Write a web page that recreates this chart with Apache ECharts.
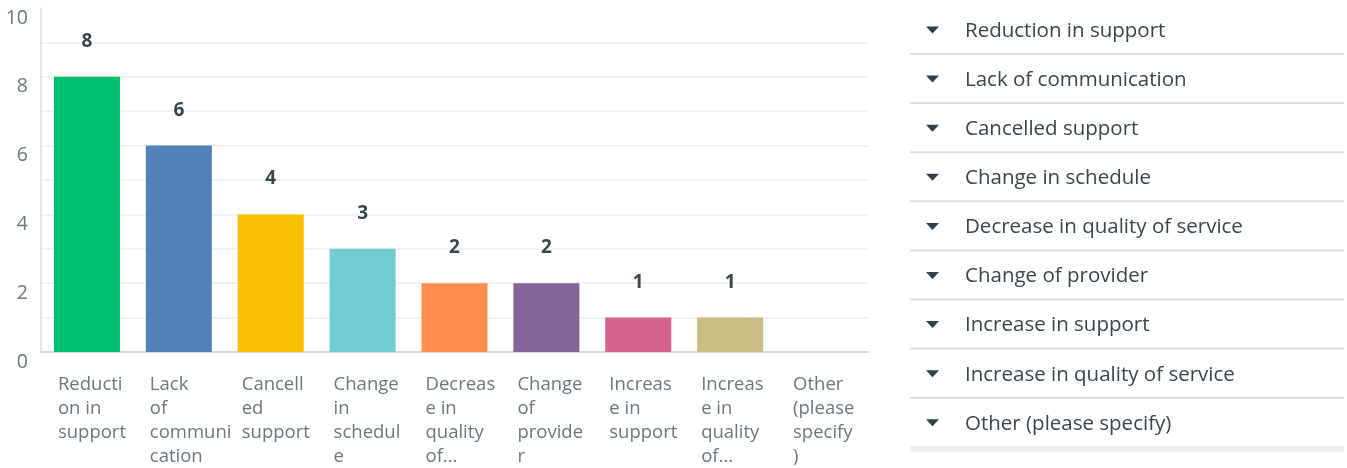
<!DOCTYPE html>
<html>
<head>
<meta charset="utf-8">
<script src="https://cdn.jsdelivr.net/npm/echarts@6/dist/echarts.min.js"></script>
<style>
  html, body { margin: 0; padding: 0; background: #ffffff; }
  #chart { width: 1347px; height: 468px; }
</style>
</head>
<body>
<div id="chart"></div>
<script>
// Answer choices, in display order
const categories = [
  'Reduction in support',
  'Lack of communication',
  'Cancelled support',
  'Change in schedule',
  'Decrease in quality of service',
  'Change of provider',
  'Increase in support',
  'Increase in quality of service',
  'Other (please specify)'
];

// Wrapped labels shown under each bar
const tickLabels = [
  ['Reducti', 'on in', 'support'],
  ['Lack', 'of', 'communi', 'cation'],
  ['Cancell', 'ed', 'support'],
  ['Change', 'in', 'schedul', 'e'],
  ['Decreas', 'e in', 'quality', 'of...'],
  ['Change', 'of', 'provide', 'r'],
  ['Increas', 'e in', 'support'],
  ['Increas', 'e in', 'quality', 'of...'],
  ['Other', '(please', 'specify', ')']
];

// Response counts
const responses = [8, 6, 4, 3, 2, 2, 1, 1, 0];

// Bar colours
const barColors = [
  '#00bf6f', '#5280b8', '#f7bf00', '#71cbd0',
  '#ff8d52', '#83639a', '#d6628f', '#c9bd83', '#a0a0a0'
];

const yTicks = ['0', '2', '4', '6', '8', '10'];

const FONT = '"Open Sans", "Noto Sans", sans-serif';

const chart = echarts.init(document.getElementById('chart'), null, { renderer: 'canvas' });

// Right-hand list of answer choices
const listGraphics = [];
const rowTop = 30, rowStep = 49.1;
categories.forEach((name, i) => {
  const cy = rowTop + i * rowStep;
  listGraphics.push({
    type: 'polygon',
    shape: { points: [[926, cy - 3.5], [939, cy - 3.5], [932.5, cy + 3.5]] },
    style: { fill: '#333e48' }
  });
  listGraphics.push({
    type: 'text',
    x: 965, y: cy + 1,
    style: {
      text: name, fill: '#3b454e', font: '20.5px ' + FONT,
      textAlign: 'left', textVerticalAlign: 'middle'
    }
  });
  const last = i === categories.length - 1;
  listGraphics.push({
    type: 'rect',
    shape: { x: 910, y: cy + 23, width: 434, height: last ? 6 : 2 },
    style: { fill: last ? '#edeeee' : '#dedede' }
  });
});

chart.setOption({
  animation: false,
  backgroundColor: '#ffffff',
  grid: { left: 41, right: 479, top: 8, bottom: 116 },
  xAxis: {
    type: 'category',
    data: categories,
    axisLine: { show: true, lineStyle: { color: '#d9d9d9', width: 2 } },
    axisTick: { show: false },
    axisLabel: {
      interval: 0,
      margin: 21,
      align: 'center',
      formatter: (v, idx) => tickLabels[idx].map(s => '{t|' + s + '}').join('\n'),
      rich: {
        t: {
          width: 58, align: 'left', fontSize: 18.5, lineHeight: 24,
          fontFamily: FONT, color: '#6b787f'
        }
      }
    }
  },
  yAxis: {
    type: 'value',
    min: 0, max: 10, interval: 1,
    axisLine: { show: true, lineStyle: { color: '#dcdcdc', width: 1.5 } },
    axisTick: { show: false },
    splitLine: { show: true, showMaxLine: false, lineStyle: { color: '#eeeeee', width: 1.5 } },
    axisLabel: {
      margin: 13,
      verticalAlign: 'top',
      fontSize: 19.5, fontFamily: FONT, color: '#6b787f',
      formatter: v => (v % 2 === 0 ? yTicks[v / 2] : '')
    }
  },
  series: [{
    type: 'bar',
    data: responses.map((v, i) => ({ value: v, itemStyle: { color: barColors[i] } })),
    barWidth: 66,
    label: {
      show: true, position: 'top', distance: 26,
      fontSize: 19, fontWeight: 'bold', fontFamily: FONT, color: '#3b454e',
      formatter: p => (p.value > 0 ? String(p.value) : '')
    }
  }],
  graphic: listGraphics
});
</script>
</body>
</html>
